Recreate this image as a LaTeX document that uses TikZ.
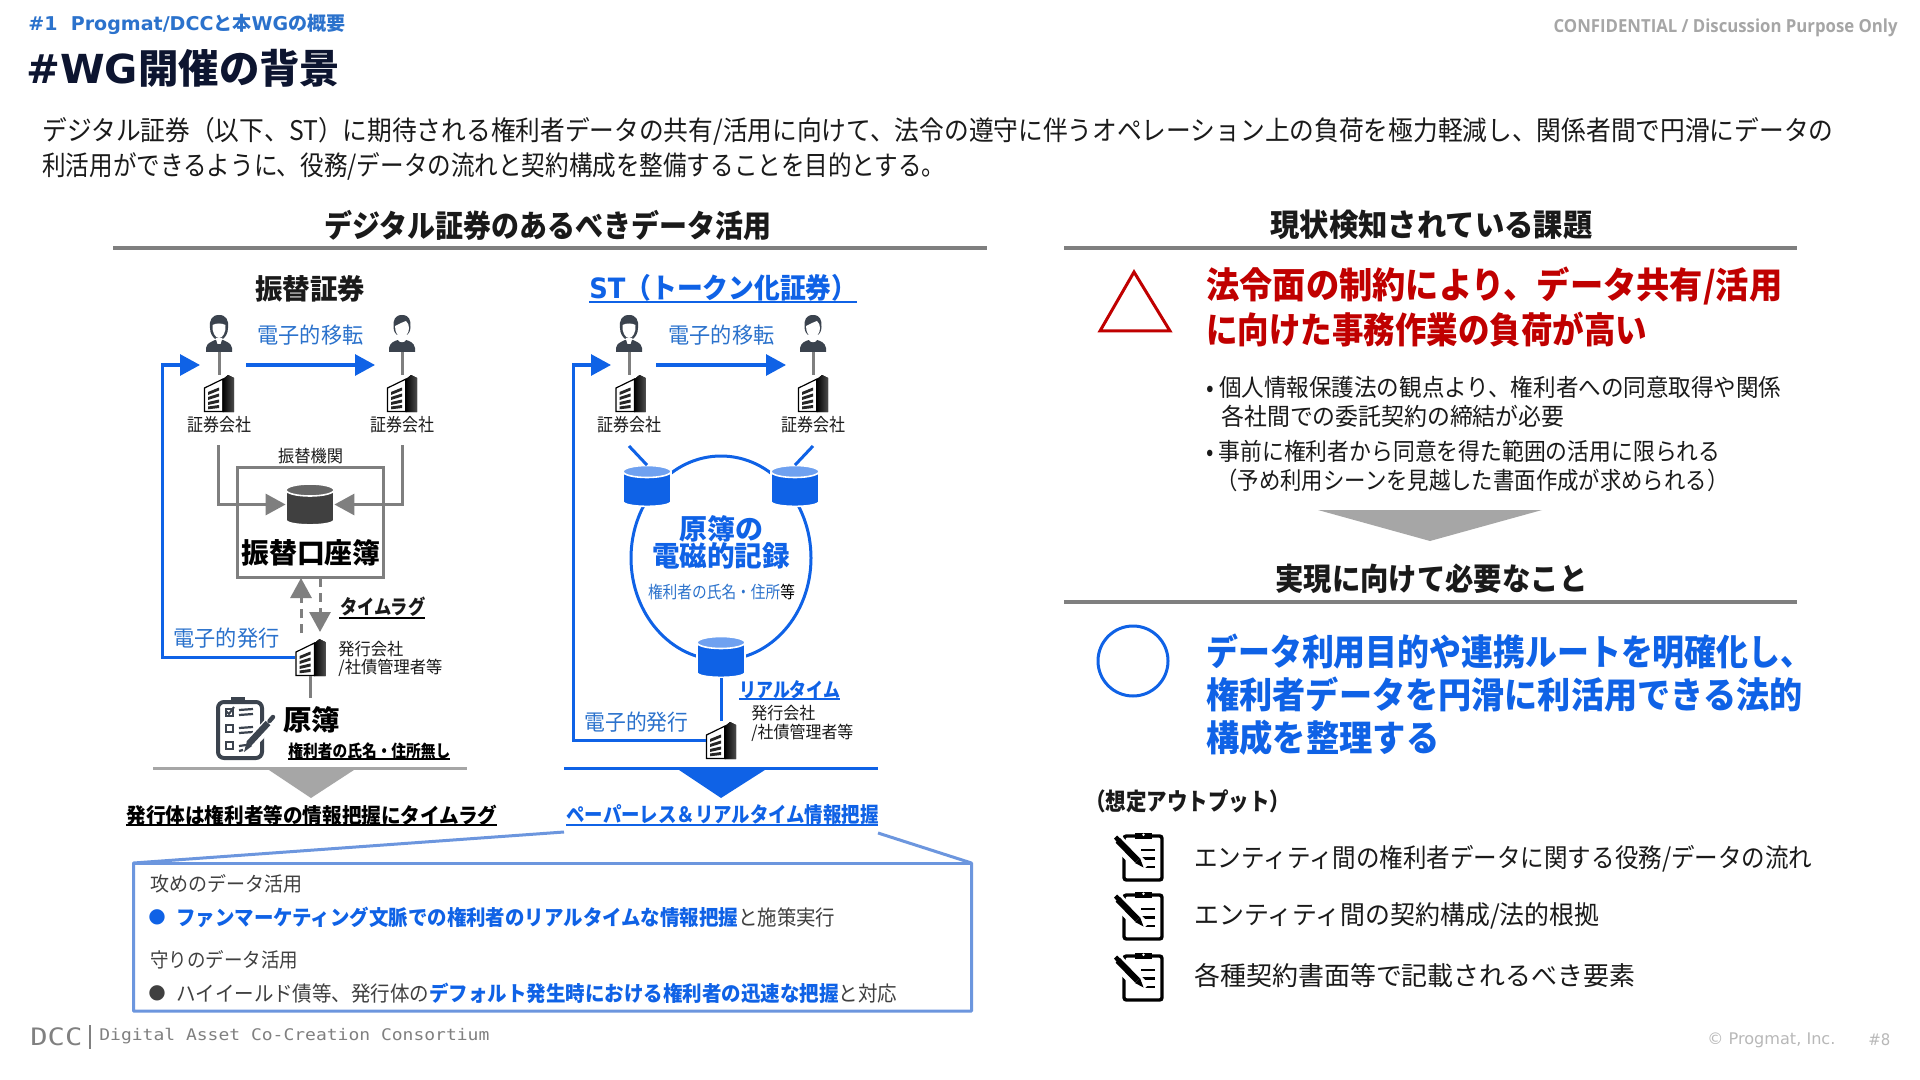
\documentclass[tikz,border=0pt]{standalone}
\usepackage{fontspec}
\usepackage{graphicx}
\usetikzlibrary{arrows.meta}
\setmainfont{Noto Sans CJK JP}
\newfontfamily\lat{DejaVu Sans}
\newfontfamily\latmono{DejaVu Sans Mono}
\newfontfamily\latopen{Open Sans}
\newcommand\fit[2]{\resizebox{\dimexpr#1pt/2\relax}{\height}{#2}}
\definecolor{accent}{HTML}{0F62E6}
\definecolor{softblue}{HTML}{2B72CC}
\definecolor{navy}{HTML}{0D1530}
\definecolor{rulegray}{HTML}{7F7F7F}
\definecolor{lightgray}{HTML}{A6A6A6}
\definecolor{darkred}{HTML}{C00000}
\definecolor{calloutblue}{HTML}{6C96DE}
\definecolor{iconslate}{HTML}{3B434E}
\definecolor{inktxt}{HTML}{1A1A1A}
\tikzset{
  lbl/.style={inner sep=0,anchor=west,text=inktxt},
  rg/.style={font=\fontsize{#1}{#1}\selectfont},
  bd/.style={font=\bfseries\fontsize{#1}{#1}\selectfont},
  holder/.style={inner sep=0,minimum width=#1,draw=none},
  secrule/.style={draw=rulegray,line width=2pt},
  ul/.style={line width=0.7pt},
  bluearrow/.style={draw=accent,line width=1.5pt,-{Triangle[length=10pt,width=10.5pt,fill=accent]}},
  grayarrow/.style={draw=rulegray,line width=1.5pt,-{Triangle[length=10pt,width=10.5pt,fill=rulegray]}},
  dasharrow/.style={draw=rulegray,line width=1.5pt,dash pattern=on 4.5pt off 3pt,-{Triangle[length=10pt,width=10.5pt,fill=rulegray]}},
  grayline/.style={draw=rulegray,line width=1.5pt},
  blueline/.style={draw=accent,line width=1.5pt},
  pics/bld/.style={code={
    % origin: top-left of the 30x37 icon
    \fill[white,draw=black,line width=0.6pt] (0.5,13)--(19,4)--(19,36.5)--(0.5,36.5)--cycle;
    \fill[left color=black,right color=black!70] (18.5,4.5)--(24,0)--(30,3)--(30,37)--(18.5,37)--cycle;
    \fill[black!85] (4,17)--(15,12.5)--(15,15.5)--(4,20)--cycle;
    \fill[black!85] (4,22)--(15,18.5)--(15,21.5)--(4,25)--cycle;
    \fill[black!85] (4,27)--(15,24.5)--(15,27.5)--(4,30)--cycle;
    \fill[black!85] (4,31.5)--(15,30)--(15,33)--(4,34.3)--cycle;
  }},
  pics/man/.style={code={
    \fill[iconslate] (-13,37)--(-13,33) .. controls (-12,28) and (-8,27) .. (-4,25)--(4,25) .. controls (8,27) and (12,28) .. (13,33)--(13,37)--cycle;
    \fill[iconslate] (0,0) .. controls (7,0) and (10,5) .. (9,13) .. controls (9,19) and (6,22) .. (4,24)--(-4,24) .. controls (-6,22) and (-9,19) .. (-9,13) .. controls (-10,5) and (-7,0) .. (0,0)--cycle;
    \fill[white] (-6.5,10) .. controls (-3,8) and (3,8) .. (6.5,10) .. controls (7,17) and (4,23) .. (0,23) .. controls (-4,23) and (-7,17) .. (-6.5,10)--cycle;
    \fill[white] (-3.5,23)--(3.5,23)--(1.5,29)--(1.5,29)--(-1.5,29)--cycle;
  }},
  pics/woman/.style={code={
    \fill[iconslate] (-13,37)--(-13,33) .. controls (-12,27) and (-7,26) .. (-4,25) .. controls (-2,28) and (2,28) .. (4,25) .. controls (7,26) and (12,27) .. (13,33)--(13,37)--cycle;
    \fill[iconslate] (0,0) .. controls (7,0) and (9,5) .. (8.5,12) .. controls (8.5,17) and (6,19) .. (5,20)--(-5,20) .. controls (-6,19) and (-8.5,17) .. (-8.5,12) .. controls (-9,5) and (-7,0) .. (0,0)--cycle;
    \fill[white] (-7,11) .. controls (-3,9) and (1,7) .. (4,6) .. controls (6,8) and (7,10) .. (7,13) .. controls (7,18) and (4,22) .. (0,22) .. controls (-4,22) and (-7,18) .. (-7,11)--cycle;
    \fill[white] (-3.5,21)--(3.5,21)--(4,25) .. controls (2,28) and (-2,28) .. (-4,25)--cycle;
  }},
  pics/dbcyl/.style n args={2}{code={
    % origin: centre of the cylinder, 48 x 41 px
    \fill[#1,draw=white,line width=0.8pt,rounded corners=0.2pt] (-24,-14.5)--(-24,15) .. controls (-24,22) and (24,22) .. (24,15)--(24,-14.5)--cycle;
    \fill[#2,draw=white,line width=0.8pt] (0,-14.5) ellipse (24 and 6);
  }},
  pics/bigboard/.style={code={
    % origin: top-left of the 59x64 icon
    \draw[iconslate,line width=2pt,rounded corners=3pt] (2,5)--(46,5)--(46,61)--(2,61)--cycle;
    \fill[iconslate] (15,0) rectangle (29,7);
    \foreach \yy in {28,45}{\draw[iconslate,line width=1pt] (9.5,\yy) rectangle (17,\yy+7);}
    \draw[iconslate,line width=1pt] (9.5,11.5) rectangle (17,18.5);
    \draw[iconslate,line width=1pt] (10,14) -- (13,17) -- (18,10);
    \foreach \yy in {13,18,31,36}{\draw[iconslate,line width=1.1pt] (23,\yy)--(37,\yy-1);}
    \draw[iconslate,line width=1.1pt] (23,49)--(30,48);
    \draw[iconslate,line width=1.1pt] (23,54)--(27,53);
    \draw[white,line width=6pt] (32,49)--(56,24);
    \fill[iconslate] (28,55)--(31,44)--(36,49)--cycle;
    \draw[iconslate,line width=3.2pt] (33,46.5)--(52,26);
    \draw[iconslate,line width=2.2pt,line cap=round] (53.5,24)--(57,20);
  }},
  pics/smallboard/.style={code={
    % origin: top-left of the 50x50 icon
    \draw[black,line width=1.7pt,rounded corners=1.2pt] (11,4)--(49,4)--(49,48)--(11,48)--cycle;
    \fill[black] (22,0.5) rectangle (39,7);
    \fill[white] (30.5,2.8) circle (1.4);
    \foreach \yy in {18,26.5,35}{\draw[black,line width=1.3pt] (28,\yy)--(42,\yy);}
    \draw[white,line width=7pt] (1,6)--(31,37);
    \fill[black] (30.5,35.5)--(22,31)--(27,26)--cycle;
    \draw[black,line width=3.2pt] (24.5,28.5)--(5,8.5);
    \fill[black] (1,6.5)--(4,3.5)--(8,7.5)--(4.5,11)--cycle;
  }}
}
\begin{document}
\begin{tikzpicture}[x=0.5pt,y=-0.5pt]
\fill[white] (0,0) rectangle (1920,1080);
\useasboundingbox (0,0) rectangle (1920,1080);

%% ---- header
\node[lbl,bd=9.5,text=softblue] (subtitle) at (28,24) {\fit{317}{{\lat\bfseries \#1 \ Progmat/DCC}と本{\lat\bfseries WG}の概要}};
\node[lbl,bd=20,text=navy] (title) at (26,68) {\fit{314}{{\lat\bfseries \#WG}開催の背景}};
\node[lbl,bd=9,text=lightgray,anchor=east] (conf) at (1898,28) {\fit{344}{{\latopen\bfseries CONFIDENTIAL / Discussion Purpose Only}}};
\node[lbl,rg=13.5] (intro1) at (42,131) {\fit{1791}{デジタル証券（以下、ST）に期待される権利者データの共有/活用に向けて、法令の遵守に伴うオペレーション上の負荷を極力軽減し、関係者間で円滑にデータの}};
\node[lbl,rg=13.5] (intro2) at (42,166) {\fit{903}{利活用ができるように、役務/データの流れと契約構成を整備することを目的とする。}};

%% ---- section heads
\node[lbl,bd=15.5] (hLeft) at (324,225) {\fit{447}{デジタル証券のあるべきデータ活用}};
\draw[secrule] (113,248) -- (987,248);
\node[lbl,bd=15.5] (hRight) at (1270,225) {\fit{322}{現状検知されている課題}};
\draw[secrule] (1064,248) -- (1797,248);

%% ---- left column: furikae
\node[lbl,bd=14] (fTitle) at (255,289) {\fit{110}{振替証券}};
\node[holder=13pt,minimum height=18.5pt] (fP1) at (219,333.5) {};
\pic at (219,315) {man};
\node[holder=13pt,minimum height=18.5pt] (fP2) at (402,333.5) {};
\pic at (402,315) {woman};
\node[holder=15pt,minimum height=18.5pt] (fB1) at (219,393.5) {};
\pic at (204,375) {bld};
\node[holder=15pt,minimum height=18.5pt] (fB2) at (402,393.5) {};
\pic at (387,375) {bld};
\draw[grayline] (fP1.south) -- (fB1.north);
\draw[grayline] (fP2.south) -- (fB2.north);
\node[lbl,rg=9,anchor=center] (fS1) at (219,425) {\fit{64}{証券会社}};
\node[lbl,rg=9,anchor=center] (fS2) at (402,425) {\fit{64}{証券会社}};
\node[lbl,rg=11,text=softblue] (fMove) at (257,335) {\fit{106}{電子的移転}};
\coordinate (fMoveS) at (246,365);
\coordinate (fMoveE) at (375,365);
\draw[bluearrow] (fMoveS) -- (fMoveE);

\node[lbl,rg=8.5,anchor=center] (fOrg) at (310.5,456) {\fit{65}{振替機関}};
\node[draw=rulegray,line width=1.5pt,fill=white,minimum width=73pt,minimum height=55pt,inner sep=0] (fBox) at (310,522) {};
\node[holder=24pt,minimum height=20.5pt] (fDb) at (310,504.5) {};
\pic at (310,504.5) {dbcyl={black!75}{black!60}};
\node[lbl,bd=14,text=black] (fLedger) at (241,553) {\fit{139}{振替口座簿}};
\coordinate (fIn1) at (218,445);
\coordinate (fIn2) at (402,445);
\draw[grayarrow] (fIn1) |- (fDb.west);
\draw[grayarrow] (fIn2) |- (fDb.east);

\node[holder=15pt,minimum height=18.5pt] (fB3) at (310.5,657) {};
\pic at (295.5,639) {bld};
\coordinate (fUp) at (301,633);
\coordinate (fUpE) at (301,578);
\coordinate (fDn) at (320,578);
\coordinate (fDnE) at (320,632);
\draw[dasharrow] (fUp) -- (fUpE);
\draw[dasharrow] (fDn) -- (fDnE);
\node[lbl,bd=10] (fLag) at (340,607) {\fit{85}{タイムラグ}};
\draw[ul] (339,618) -- (425,618);
\coordinate (fArr) at (200,365);
\draw[bluearrow] (fB3.west) -| (162,365) -- (fArr);
\node[lbl,rg=11,text=softblue] (fIssue) at (173,638) {\fit{106}{電子的発行}};
\node[lbl,rg=8.5] (fIss1) at (338,649) {\fit{65}{発行会社}};
\node[lbl,rg=8.5] (fIss2) at (338,668) {\fit{104}{/社債管理者等}};
\node[holder=29.5pt,minimum height=32pt] (fBoard) at (245.5,729) {};
\pic at (216,697) {bigboard};
\draw[draw=rulegray,line width=1.5pt] (fB3.south) -- (310.5,698);
\node[lbl,bd=14,text=black] (fOrig) at (283,720) {\fit{57}{原簿}};
\node[lbl,bd=8.5,text=black] (fNo) at (288,751) {\fit{162}{権利者の氏名・住所無し}};
\draw[ul] (288,759) -- (450,759);
\draw[draw=lightgray,line width=1.5pt] (153,768) -- (467,768);
\fill[lightgray] (266,768) -- (357,768) -- (311,798) -- cycle;
\node[lbl,bd=10.5,text=black] (fEnd) at (126,815) {\fit{371}{発行体は権利者等の情報把握にタイムラグ}};
\draw[ul] (126,825) -- (497,825);

%% ---- middle column: ST
\node[lbl,bd=14,text=accent] (sTitle) at (589,288) {\fit{268}{{\lat\bfseries ST}（トークン化証券）}};
\draw[accent,line width=1pt] (589,302) -- (857,302);
\node[holder=13pt,minimum height=18.5pt] (sP1) at (629,333.5) {};
\pic at (629,315) {man};
\node[holder=13pt,minimum height=18.5pt] (sP2) at (813,333.5) {};
\pic at (813,315) {woman};
\node[holder=15pt,minimum height=18.5pt] (sB1) at (630.5,393.5) {};
\pic at (615.5,375) {bld};
\node[holder=15pt,minimum height=18.5pt] (sB2) at (813,393.5) {};
\pic at (798,375) {bld};
\draw[grayline] (sP1.south) -- (sP1.south |- sB1.north);
\draw[grayline] (sP2.south) -- (sB2.north);
\node[lbl,rg=9,anchor=center] (sS1) at (629,425) {\fit{64}{証券会社}};
\node[lbl,rg=9,anchor=center] (sS2) at (813,425) {\fit{64}{証券会社}};
\node[lbl,rg=11,text=softblue] (sMove) at (668,335) {\fit{106}{電子的移転}};
\coordinate (sMoveS) at (656,365);
\coordinate (sMoveE) at (786,365);
\draw[bluearrow] (sMoveS) -- (sMoveE);

\draw[accent,line width=1.5pt] (721,558) ellipse (90 and 102);
\node[holder=24pt,minimum height=20.5pt] (sDb1) at (647,486) {};
\pic at (647,486) {dbcyl={accent}{accent!60!white}};
\node[holder=24pt,minimum height=20.5pt] (sDb2) at (795,486) {};
\pic at (795,486) {dbcyl={accent}{accent!60!white}};
\node[holder=24pt,minimum height=20.5pt] (sDb3) at (721,657) {};
\pic at (721,657) {dbcyl={accent}{accent!60!white}};
\coordinate (sT1) at (629,446);
\coordinate (sT2) at (813,446);
\draw[blueline] (sT1) -- (sDb1.north);
\draw[blueline] (sT2) -- (sDb2.north);
\node[lbl,bd=14,text=accent,anchor=center] (sRec1) at (721,529) {\fit{84}{原簿の}};
\node[lbl,bd=14,text=accent,anchor=center] (sRec2) at (721,556) {\fit{138}{電磁的記録}};
\node[lbl,rg=8.5,text=softblue,anchor=center] (sRec3) at (721.5,592) {\fit{147}{権利者の氏名・住所\textcolor{black}{等}}};

\node[holder=15pt,minimum height=18.5pt] (sB3) at (721,740) {};
\pic at (706,722) {bld};
\draw[blueline] (sDb3.south) -- (sB3.north);
\node[lbl,bd=10,text=accent] (sReal) at (739,690) {\fit{101}{リアルタイム}};
\draw[accent,line width=0.8pt] (739,699) -- (840,699);
\node[lbl,rg=8.5] (sIss1) at (751,713) {\fit{64}{発行会社}};
\node[lbl,rg=8.5] (sIss2) at (751,733) {\fit{102}{/社債管理者等}};
\node[lbl,rg=11,text=softblue] (sIssue) at (584,722) {\fit{104}{電子的発行}};
\coordinate (sArr) at (611,365);
\draw[bluearrow] (sB3.west) -| (573,365) -- (sArr);
\draw[accent,line width=1.5pt] (564,768) -- (878,768);
\fill[accent] (676,768) -- (768,768) -- (721,798) -- cycle;
\node[lbl,bd=10.5,text=accent] (sEnd) at (566,815) {\fit{312}{ペーパーレス＆リアルタイム情報把握}};
\draw[accent,line width=0.7pt] (566,825) -- (878,825);

%% ---- callout
\draw[calloutblue,line width=1.5pt,line join=round] (564,832) -- (133.5,863) -- (133.5,1011) -- (971.5,1011) -- (971.5,863) -- (878,833);
\draw[calloutblue,line width=1.5pt] (133.5,863) -- (971.5,863);
\node[lbl,rg=10,text=black!75] (cA) at (150,884) {\fit{152}{攻めのデータ活用}};
\node[lbl,rg=10,text=accent,anchor=center] (cAb) at (157,917) {{\lat ●}};
\node[lbl,rg=10.5,text=black!75] (cAt) at (176,917) {\fit{659}{{\bfseries\color{accent}ファンマーケティング文脈での権利者のリアルタイムな情報把握}と施策実行}};
\node[lbl,rg=10,text=black!75] (cD) at (150,960) {\fit{148}{守りのデータ活用}};
\node[lbl,rg=10,text=black!75,anchor=center] (cDb) at (157,993) {{\lat ●}};
\node[lbl,rg=10.5,text=black!75] (cDt) at (176,993) {\fit{721}{ハイイールド債等、発行体の{\bfseries\color{accent}デフォルト発生時における権利者の迅速な把握}と対応}};

%% ---- right column
\draw[darkred,line width=1.5pt,line join=miter] (1134,272) -- (1170,331) -- (1100,331) -- cycle;
\node[lbl,bd=18,text=darkred] (rR1) at (1206,286) {\fit{576}{法令面の制約により、データ共有/活用}};
\node[lbl,bd=18,text=darkred] (rR2) at (1206,330) {\fit{441}{に向けた事務作業の負荷が高い}};
\node[lbl,rg=12] (rB1) at (1206,387) {\fit{575}{• 個人情報保護法の観点より、権利者への同意取得や関係}};
\node[lbl,rg=12] (rB2) at (1221,416) {\fit{343}{各社間での委託契約の締結が必要}};
\node[lbl,rg=12] (rB3) at (1206,451) {\fit{514}{• 事前に権利者から同意を得た範囲の活用に限られる}};
\node[lbl,rg=12] (rB4) at (1216,480) {\fit{512}{（予め利用シーンを見越した書面作成が求められる）}};
\fill[lightgray] (1318,510) -- (1542,510) -- (1430,541) -- cycle;
\node[lbl,bd=15.5] (hNeed) at (1275,579) {\fit{312}{実現に向けて必要なこと}};
\draw[secrule] (1064,602) -- (1797,602);
\draw[accent,line width=1.5pt] (1133,661) circle (35);
\node[lbl,bd=18,text=accent] (rN1) at (1206,652) {\fit{606}{データ利用目的や連携ルートを明確化し、}};
\node[lbl,bd=18,text=accent] (rN2) at (1206,695) {\fit{596}{権利者データを円滑に利活用できる法的}};
\node[lbl,bd=18,text=accent] (rN3) at (1206,738) {\fit{233}{構成を整理する}};
\node[lbl,bd=12] (rOut) at (1085,801) {\fit{205}{（想定アウトプット）}};
\pic at (1113,832) {smallboard};
\pic at (1113,891) {smallboard};
\pic at (1113,952) {smallboard};
\node[lbl,rg=13] (rO1) at (1194,859) {\fit{618}{エンティティ間の権利者データに関する役務/データの流れ}};
\node[lbl,rg=13] (rO2) at (1194,916) {\fit{405}{エンティティ間の契約構成/法的根拠}};
\node[lbl,rg=13] (rO3) at (1194,976) {\fit{441}{各種契約書面等で記載されるべき要素}};

%% ---- footer
\node[lbl,rg=12,text=black!50] (dcc) at (30,1037) {\fit{52}{{\latmono DCC}}};
\draw[black!50,line width=0.8pt] (90,1025) -- (90,1049);
\node[lbl,rg=8,text=black!50] (dccName) at (99,1036) {\fit{390}{{\latmono Digital Asset Co-Creation Consortium}}};
\node[lbl,rg=8,text=black!28] (copy) at (1707,1040) {\fit{128}{{\lat © Progmat, Inc.}}};
\node[lbl,rg=8,text=black!28] (pg) at (1868,1040) {\fit{22}{{\lat \#8}}};
\end{tikzpicture}
\end{document}
